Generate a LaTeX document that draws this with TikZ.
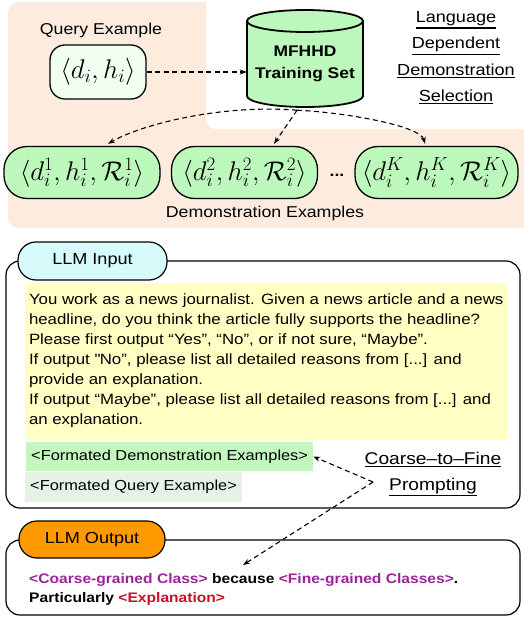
\RequirePackage{fix-cm}
\documentclass[tikz,border=0pt]{standalone}
\usepackage{fontspec}
\setmainfont[FakeStretch=1.13]{Liberation Sans}
\usetikzlibrary{arrows.meta}
\definecolor{peach}{RGB}{253,236,222}
\definecolor{qfill}{RGB}{240,255,240}
\definecolor{cylfill}{RGB}{188,247,188}
\definecolor{cyanf}{RGB}{215,250,250}
\definecolor{yellowf}{RGB}{255,255,196}
\definecolor{demobox}{RGB}{195,247,190}
\definecolor{qbox}{RGB}{230,242,230}
\definecolor{orangef}{RGB}{255,153,0}
\definecolor{purp}{RGB}{155,35,155}
\definecolor{crim}{RGB}{200,15,40}
\newcommand\fLbl{\fontsize{15.7pt}{19pt}\selectfont}
\newcommand\fMath{\fontsize{27pt}{30pt}\selectfont}
\newcommand\fCyl{\fontsize{15.4pt}{22pt}\selectfont\bfseries}
\newcommand\fRight{\fontsize{16pt}{26.3pt}\selectfont}
\newcommand\fPrompt{\fontsize{14.9pt}{20pt}\selectfont}
\newcommand\fBox{\fontsize{14.5pt}{17pt}\selectfont}
\newcommand\fCtf{\fontsize{17pt}{26pt}\selectfont}
\newcommand\fOut{\fontsize{13.8pt}{19pt}\selectfont\bfseries}
\newcommand\fTab{\fontsize{16pt}{19pt}\selectfont}
\newcommand\myul[1]{\sbox0{#1}\rlap{\rule[\dimexpr-\dp0-2.8pt\relax]{\wd0}{1.3pt}}\usebox0}
\begin{document}
\begin{tikzpicture}[x=1pt,y=-1pt,
  dasharrow/.style={line width=1.1pt, dash pattern=on 5pt off 3.5pt, -{Stealth[length=7pt,width=5pt]}},
  demonode/.style={draw, line width=1.3pt, fill=cylfill, rounded corners=23pt, minimum height=52pt, inner xsep=4pt, font=\fMath},
  tabnode/.style={draw, line width=1.2pt, rounded corners=18pt, minimum height=38pt, font=\fTab, inner sep=0pt},
  fmtbox/.style={inner xsep=5pt, inner ysep=0pt, font=\fBox, anchor=west},
  bigbox/.style={draw, line width=1.2pt, rounded corners=14pt}
]
\useasboundingbox (0,0) rectangle (523,617);
% background regions
\fill[peach, rounded corners=11pt] (8,2) rectangle (540,228);
\fill[white, rounded corners=10pt] (206,-30) rectangle (560,129);

% query example
\node[font=\fLbl] (qlab) at (101,30) {Query Example};
\node[draw, line width=1.3pt, fill=qfill, rounded corners=15pt, minimum width=96pt, minimum height=54pt, inner sep=0pt, font=\fMath] (q) at (98,72) {$\langle d_i, h_i\rangle$};

% cylinder
\node[minimum width=116pt, minimum height=97pt, inner sep=0pt] (db) at (305,58.5) {};
\fill[cylfill] (247,21) -- (247,96) arc[start angle=180, end angle=0, x radius=58, y radius=11] -- (363,21) -- cycle;
\draw[line width=1.8pt] (247,21) -- (247,96) arc[start angle=180, end angle=0, x radius=58, y radius=11] -- (363,21);
\filldraw[fill=cylfill, line width=1.8pt] (305,21) ellipse[x radius=58, y radius=11];
\node[align=center, font=\fCyl] (dbt) at (305,64) {MFHHD\\Training Set};

% right label
\node[align=center, font=\fRight] (lds) at (456,58) {\myul{Language}\\\myul{Dependent}\\\myul{Demonstration}\\\myul{Selection}};

% demonstration nodes
\node[demonode, minimum width=156pt] (d1) at (82,172.5) {$\langle d_i^1, h_i^1, \mathcal{R}_i^1\rangle$};
\node[demonode, minimum width=146pt] (d2) at (244.5,172.5) {$\langle d_i^2, h_i^2, \mathcal{R}_i^2\rangle$};
\node[demonode, minimum width=163pt] (d3) at (436.5,172.5) {$\langle d_i^K, h_i^K, \mathcal{R}_i^K\rangle$};
\node[inner sep=0pt, font=\fLbl\bfseries] (dots) at (337,175) {...};
\node[font=\fLbl] (dlab) at (265,213) {Demonstration Examples};

% arrows top
\draw[dasharrow] (q.east) -- (q.east -| db.west);
\coordinate (src) at ([xshift=-8pt, yshift=-3pt]db.south);
\draw[dasharrow] (src) .. controls (220,104) and (140,125) .. ([xshift=26pt, yshift=2pt]d1.north);
\draw[dasharrow] (src) -- ([xshift=29.5pt, yshift=2pt]d2.north);
\draw[dasharrow] (src) .. controls (340,112) and (420,125) .. ([xshift=-11.5pt, yshift=2pt]d3.north);

% LLM input
\draw[bigbox] (6,261) rectangle (520,508);
\node[tabnode, fill=cyanf, minimum width=149pt] (inp) at (92.5,261) {LLM Input};
\node[fill=yellowf, minimum width=482pt, minimum height=156pt, inner sep=0pt] (ybox) at (266,361) {};
\node[anchor=north west, inner sep=0pt, align=left, font=\fPrompt] (ptxt) at ([xshift=4pt, yshift=-10.3pt]ybox.north west) {You work as a news journalist. Given a news article and a news\\headline, do you think the article fully supports the headline?\\Please first output “Yes”, “No”, or if not sure, “Maybe”.\\If output \textquotedbl No”, please list all detailed reasons from [...] and\\provide an explanation.\\If output “Maybe”, please list all detailed reasons from [...] and\\an explanation.};
\node[fmtbox, fill=demobox, minimum height=29pt] (fde) at (26,456.5) {<Formated Demonstration Examples>};
\node[fmtbox, fill=qbox, minimum height=30pt] (fqe) at (25,487) {<Formated Query Example>};
\node[align=center, font=\fCtf] (ctf) at (433,474) {\myul{Coarse–to–Fine}\\\myul{Prompting}};

% LLM output
\draw[bigbox] (6,540) rectangle (520,615);
\node[tabnode, fill=orangef, minimum width=146pt, minimum height=37pt] (outp) at (92,539.5) {LLM Output};
\node[anchor=north west, inner sep=0pt, align=left, font=\fOut] (otxt) at (29,572.8) {\textcolor{purp}{<Coarse-grained Class>} because \textcolor{purp}{<Fine-grained Classes>}.\\Particularly \textcolor{crim}{<Explanation>}};

% coarse-to-fine arrows
\coordinate (cf) at (373,482);
\coordinate (ot) at (243,565);
\draw[dasharrow] (cf) -- (fde.east);
\draw[dasharrow] (cf) -- (ot);
\end{tikzpicture}
\end{document}
